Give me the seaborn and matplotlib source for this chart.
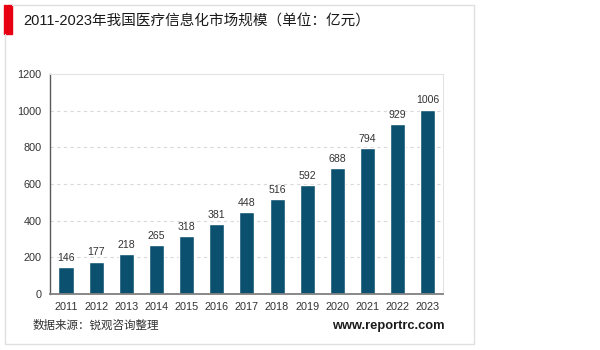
import matplotlib
matplotlib.use("Agg")
import matplotlib.pyplot as plt
import seaborn as sns
import pandas as pd
from matplotlib.lines import Line2D
from matplotlib.patches import Rectangle

years = ["2011", "2012", "2013", "2014", "2015", "2016", "2017",
         "2018", "2019", "2020", "2021", "2022", "2023"]
values = [146, 177, 218, 265, 318, 381, 448, 516, 592, 688, 794, 929, 1006]
yticks = [0, 200, 400, 600, 800, 1000, 1200]
title = "2011-2023年我国医疗信息化市场规模（单位：亿元）"
source = "数据来源：锐观咨询整理"
site = "www.reportrc.com"

sns.set_theme(style="white")
plt.rcParams['font.family'] = ['Liberation Sans', 'Noto Sans CJK SC', 'DejaVu Sans']

W, H = 600, 350
fig = plt.figure(figsize=(6, 3.5), dpi=100)
fig.patch.set_facecolor("white")

def fx(px):
    return px / W

def fy(py):
    return 1 - py / H

ax = fig.add_axes([fx(50), fy(294), fx(443) - fx(50), fy(74) - fy(294)])
df = pd.DataFrame({"year": years, "value": values})
sns.barplot(data=df, x="year", y="value", color="#0C5070", width=0.5,
            saturation=1, ax=ax)

ax.set_ylim(0, 1200)
ax.set_xlim(-0.53, 12.5)
ax.set_yticks(yticks)
ax.set_yticklabels([str(t) for t in yticks])
ax.set_xlabel("")
ax.set_ylabel("")
ax.tick_params(axis="both", length=0, labelsize=7.8, colors="#333333")
ax.tick_params(axis="y", pad=6)
ax.tick_params(axis="x", pad=6)

for y in yticks[1:-1]:
    ax.axhline(y, color="#d9d9d9", linestyle=(0, (3, 3)), linewidth=0.8, zorder=0)

ax.spines["left"].set_color("#595959")
ax.spines["left"].set_linewidth(1.0)
ax.spines["bottom"].set_color("#7f7f7f")
ax.spines["bottom"].set_linewidth(1.3)
ax.spines["top"].set_color("#e3e3e3")
ax.spines["top"].set_linewidth(0.8)
ax.spines["right"].set_color("#e3e3e3")
ax.spines["right"].set_linewidth(0.8)

for i, v in enumerate(values):
    ax.annotate(str(v), (i, v), xytext=(0, 3), textcoords="offset points",
                ha="center", va="bottom", fontsize=7.6, color="#333333")

# outer frame
frame_c = "#e0e0e0"
fig.add_artist(Line2D([fx(5), fx(5)], [fy(34), fy(344)], color=frame_c, lw=1))
fig.add_artist(Line2D([fx(5), fx(474)], [fy(344), fy(344)], color=frame_c, lw=1))
fig.add_artist(Line2D([fx(474), fx(474)], [fy(5), fy(344)], color=frame_c, lw=1))
fig.add_artist(Line2D([fx(12), fx(474)], [fy(5), fy(5)], color=frame_c, lw=1))
fig.add_artist(Rectangle((fx(4), fy(34)), fx(8), fy(5) - fy(34),
                         color="#e60012", transform=fig.transFigure))

fig.text(fx(23), fy(22), title, fontsize=10.5, color="#1a1a1a",
         ha="left", va="center")
fig.text(fx(33), fy(326), source, fontsize=8.3, color="#333333",
         ha="left", va="center")
fig.text(fx(445), fy(326), site, fontsize=9.3, color="#1a1a1a",
         fontweight="bold", ha="right", va="center")

fig.savefig("out.png", dpi=100, facecolor="white")
